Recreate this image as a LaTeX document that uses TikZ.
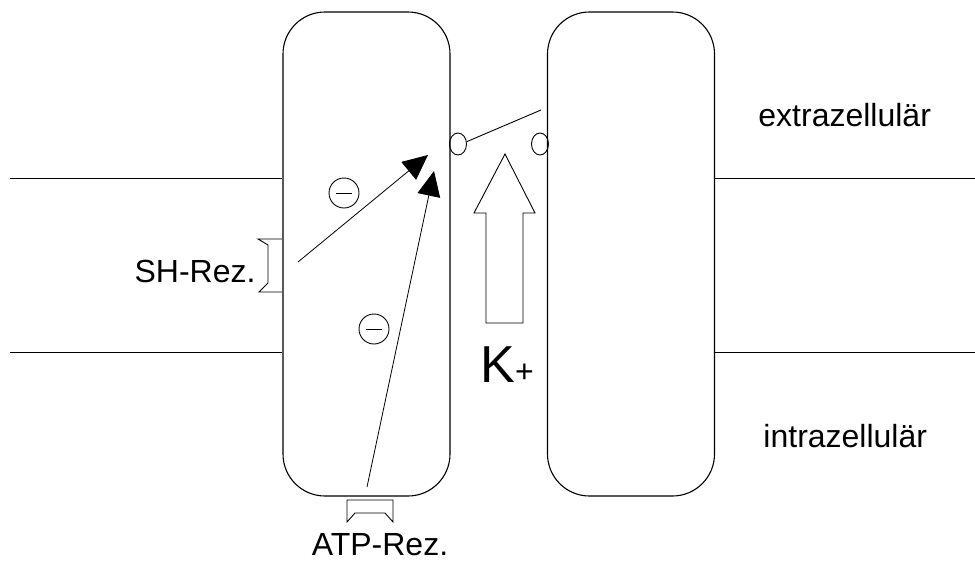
\documentclass[tikz,border=0pt]{standalone}
\usepackage{fontspec}
\setmainfont{Liberation Sans}
\usetikzlibrary{arrows.meta,shapes.geometric}
\begin{document}
\begin{tikzpicture}[x=1pt,y=-1pt, line width=0.9pt,
  cell/.style={draw, line width=1.1pt, rounded corners=42pt, minimum width=167pt, minimum height=484pt, inner sep=0pt},
  lbl/.style={font=\fontsize{32}{38}\selectfont, inner sep=0pt},
  sig/.style={-{Triangle[length=25pt,width=23pt]}, line width=0.8pt},
  minus/.style={draw, circle, minimum size=30pt, inner sep=0pt,
    path picture={\draw ([xshift=-8pt]path picture bounding box.center) -- ([xshift=8pt]path picture bounding box.center);}},
  gate/.style={draw, ellipse, minimum width=17pt, minimum height=22pt, inner sep=0pt}]
\useasboundingbox (0,0) rectangle (975,560);
% cells
\node[cell] (L) at (366.5,254) {};
\node[cell] (R) at (631,254) {};
% membrane lines
\coordinate (m1l) at (10,178);
\coordinate (m1r) at (975,178);
\coordinate (m2l) at (10,352);
\coordinate (m2r) at (975,352);
\draw (m1l) -- (L.west |- m1l);
\draw (m2l) -- (L.west |- m2l);
\draw (R.east |- m1r) -- (m1r);
\draw (R.east |- m2r) -- (m2r);
% receptors
\draw (282,239) -- (258,239) -- (268,245) -- (268,283) -- (259,292) -- (282,292);
\draw (347,500) -- (393,500) -- (393,522) -- (385,513) -- (355,513) -- (347,522) -- cycle;
% minus signs
\node[minus] (n1) at (344,193) {};
\node[minus] (n2) at (374,329) {};
% signal arrows
\coordinate (a1s) at (298,262);
\coordinate (a1t) at (428,155);
\coordinate (a2s) at (367,487);
\coordinate (a2t) at (434,171);
\draw[sig] (a1s) -- (a1t);
\draw[sig] (a2s) -- (a2t);
% gate
\node[gate] (gl) at (458,144) {};
\node[gate] (gr) at (540,144) {};
\coordinate (gtip) at (541,110);
\draw (gl.15) -- (gtip);
% K+ arrow
\draw (486,323) -- (486,213) -- (474,213) -- (505,154) -- (535,213) -- (523,213) -- (523,323) -- cycle;
% labels
\node[lbl, anchor=base west] (ex) at (758,126) {extrazellulär};
\node[lbl, anchor=base west] (in) at (763,447) {intrazellulär};
\node[lbl, anchor=base east] (sh) at (256,282) {SH-Rez.};
\node[lbl, anchor=base] (atp) at (380,555) {ATP-Rez.};
\node[anchor=base west, inner sep=0pt] (k) at (480,382) {\fontsize{52}{60}\selectfont K\fontsize{32}{38}\selectfont +};
\end{tikzpicture}
\end{document}
